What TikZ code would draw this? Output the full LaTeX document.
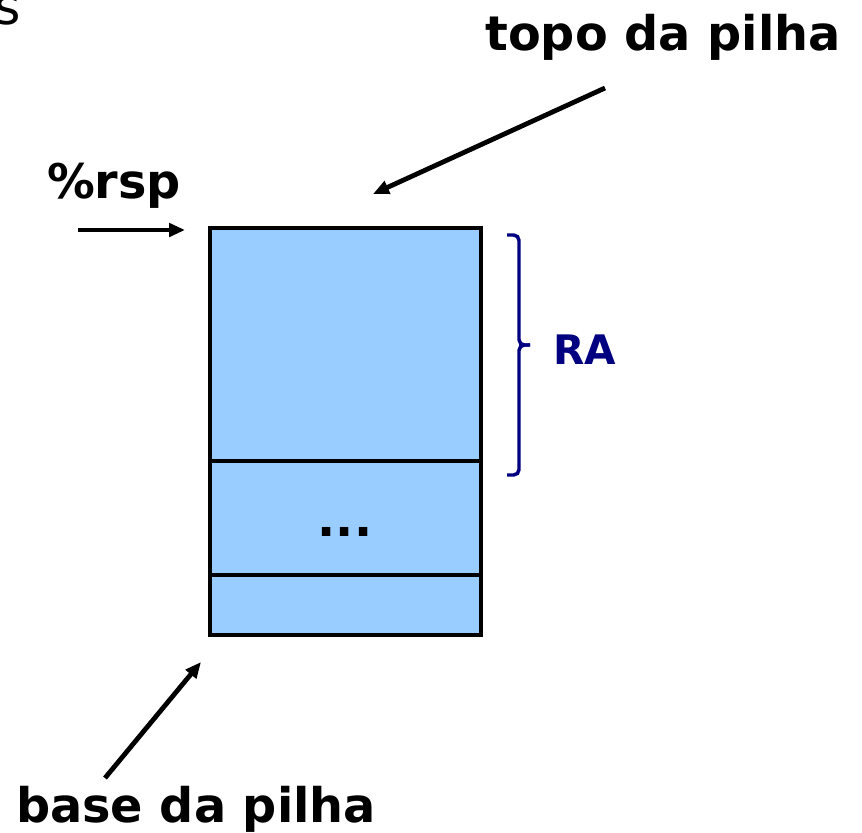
\documentclass[tikz,border=0pt]{standalone}
\usepackage{fontspec}
\setmainfont{DejaVu Sans}
\usetikzlibrary{arrows.meta}
\definecolor{cellblue}{HTML}{99CCFF}
\definecolor{bracenavy}{HTML}{000080}
\tikzset{
  lbl/.style={font=\fontsize{35.8pt}{40pt}\selectfont\bfseries, inner sep=0pt},
  ptr/.style={line width=3.6pt, -{Triangle[length=12pt,width=10pt]}},
}
\begin{document}
\begin{tikzpicture}[x=0.75pt,y=-0.75pt]
\useasboundingbox (0,0) rectangle (862,832);
% partial text at top-left (cut off in the reference too)
\node[font=\fontsize{38pt}{42pt}\selectfont, inner sep=0pt, anchor=base west] (cut) at (-6,24) {s};
% stack
\fill[cellblue] (210,228) rectangle (481,635);
\draw[line width=3.2pt] (210,228) rectangle (481,635);
\draw[line width=3.2pt] (210,461) -- (481,461);
\draw[line width=3.2pt] (210,575) -- (481,575);
\node[lbl] (dots) at (345,532) {...};
% labels
\node[lbl, anchor=base] (topo) at (663,50) {topo da pilha};
\node[lbl, anchor=base] (rsp) at (114,198) {\%rsp};
\node[lbl, anchor=base] (base) at (196,822) {base da pilha};
\node[font=\fontsize{30.5pt}{34pt}\selectfont\bfseries, text=bracenavy, inner sep=0pt] (ra) at (585,350) {RA};
% arrows
\coordinate (rspS) at (78,230);
\coordinate (rspE) at (185,230);
\draw[ptr] (rspS) -- (rspE);
\coordinate (topS) at (605,88);
\coordinate (topE) at (373,194);
\draw[ptr] (topS) -- (topE);
\coordinate (baseS) at (105,778);
\coordinate (baseE) at (201,662);
\draw[ptr] (baseS) -- (baseE);
% brace
\coordinate (bt) at (507,235);
\coordinate (bb) at (507,475);
\coordinate (btip) at (530,345);
\draw[bracenavy, line width=2.6pt, rounded corners=4pt, line cap=butt]
  (bt) -- (519,235) -- (519,345) -- (btip);
\draw[bracenavy, line width=2.6pt, rounded corners=4pt, line cap=butt]
  (bb) -- (519,475) -- (519,345) -- (btip);
\end{tikzpicture}
\end{document}
